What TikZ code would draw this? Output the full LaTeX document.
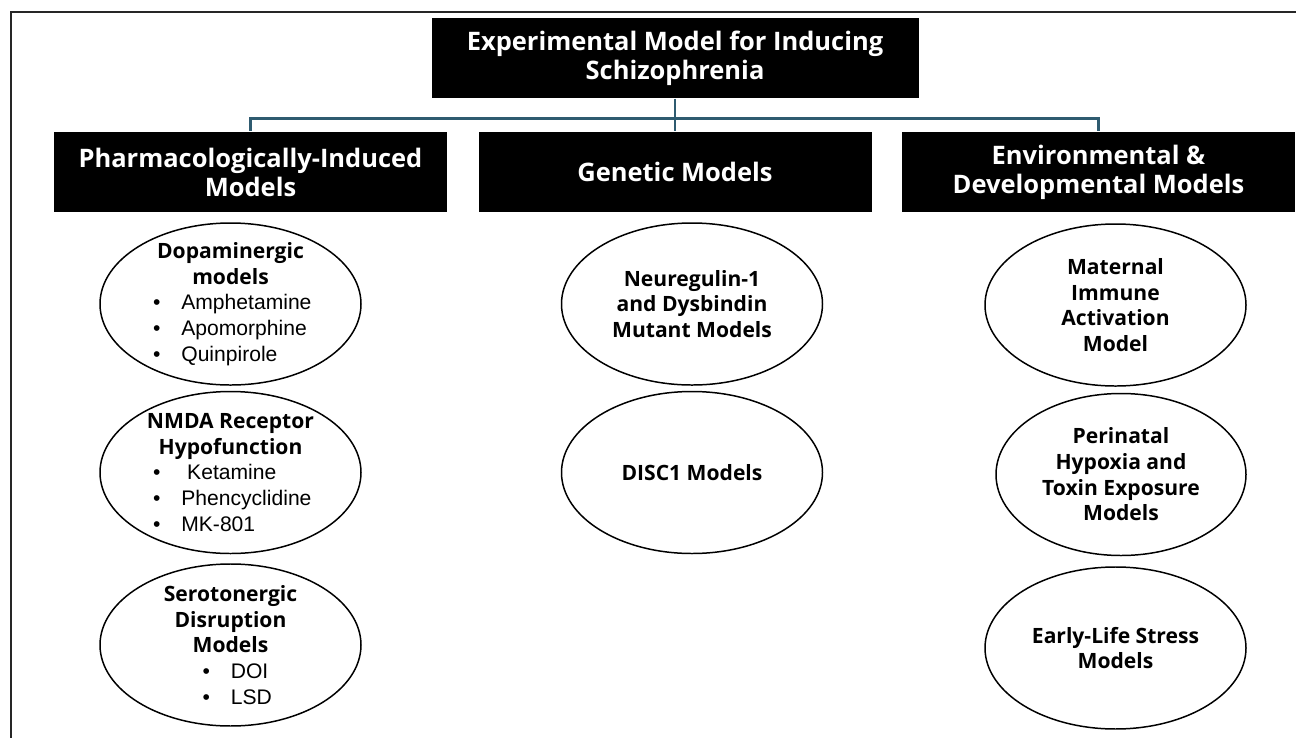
\documentclass[tikz,border=0pt]{standalone}
\usepackage{fontspec}
\setmainfont{Liberation Sans}
\newfontfamily\headfont{Open Sans}
\usepackage{xcolor}
\usetikzlibrary{positioning,shapes.geometric}
\definecolor{linkblue}{HTML}{2F5B70}
\newcommand{\ttl}[1]{{\headfont\bfseries #1}}
\newcommand{\blt}[2][3.1cm]{\makebox[#1][l]{\textbullet\hspace{0.42cm}#2}}

\begin{document}
\begin{tikzpicture}[-,semithick,node distance=0.1cm]
 \tikzstyle{darkbox}=[fill=black, text=white, draw=none, minimum height=1.6cm, align=center, inner sep=0pt, font=\headfont\bfseries\fontsize{14.5}{16.5}\selectfont]
 \tikzstyle{oval}=[ellipse, draw=black, line width=0.85pt, minimum width=5.22cm, minimum height=3.24cm, inner sep=0pt]
 \tikzstyle{ovaltext}=[align=center, inner sep=0pt, font=\fontsize{12}{14.6}\selectfont]
 \tikzstyle{link}=[draw=linkblue, line width=1.2pt]
 \useasboundingbox (0,0) rectangle (25.92,-14.74);
 % frame
 \draw[line width=1.2pt, draw=black!85] (0.22,-0.24) rectangle (26.1,-15);
 % top and category boxes
 \node[darkbox, minimum width=9.74cm] (top) at (13.5,-1.16) {Experimental Model for Inducing\\Schizophrenia};
 \node[darkbox, minimum width=7.86cm] (pharm) at (5.01,-3.44) {Pharmacologically-Induced\\Models};
 \node[darkbox, minimum width=7.86cm] (genet) at (13.5,-3.44) {Genetic Models};
 \node[darkbox, minimum width=7.86cm] (envi) at (21.97,-3.44) {Environmental \&\\Developmental Models};
 \draw[link] (top.south) -- ++(0,-0.4) coordinate (bar);
 \draw[link] (bar) -| (pharm.north);
 \draw[link] (bar) -- (genet.north);
 \draw[link] (bar) -| (envi.north);
 % pharmacological
 \node[oval] (dopa) at (4.61,-6.08) {};
 \node[oval] (nmda) [below=0.1cm of dopa] {};
 \node[oval] (sero) [below=0.18cm of nmda] {};
 \node[ovaltext] (dopat) at (dopa) {\ttl{Dopaminergic}\\\ttl{models}\\\blt{Amphetamine}\\\blt{Apomorphine}\\\blt{Quinpirole}};
 \node[ovaltext] (nmdat) at (nmda) {\ttl{NMDA Receptor}\\\ttl{Hypofunction}\\\blt{\ Ketamine}\\\blt{Phencyclidine}\\\blt{MK-801}};
 \node[ovaltext] (serot) at (sero) {\ttl{Serotonergic}\\\ttl{Disruption}\\\ttl{Models}\\\blt[1.12cm]{DOI}\\\blt[1.12cm]{LSD}};
 % genetic
 \node[oval] (nrg) at (13.84,-6.08) {};
 \node[oval] (disc) [below=0.1cm of nrg] {};
 \node[ovaltext] (nrgt) at (nrg) {\ttl{Neuregulin-1}\\\ttl{and Dysbindin}\\\ttl{Mutant Models}};
 \node[ovaltext] (disct) at (disc) {\ttl{DISC1 Models}};
 % environmental
 \node[oval] (mia) at (22.31,-6.10) {};
 \node[oval, minimum width=5.0cm] (peri) [below=0.12cm of mia, xshift=0.11cm] {};
 \node[oval] (els) [below=0.2cm of peri, xshift=-0.11cm] {};
 \node[ovaltext] (miat) at (mia) {\ttl{Maternal}\\\ttl{Immune}\\\ttl{Activation}\\\ttl{Model}};
 \node[ovaltext] (perit) at (peri) {\ttl{Perinatal}\\\ttl{Hypoxia and}\\\ttl{Toxin Exposure}\\\ttl{Models}};
 \node[ovaltext] (elst) at (els) {\ttl{Early-Life Stress}\\\ttl{Models}};
\end{tikzpicture}
\end{document}
